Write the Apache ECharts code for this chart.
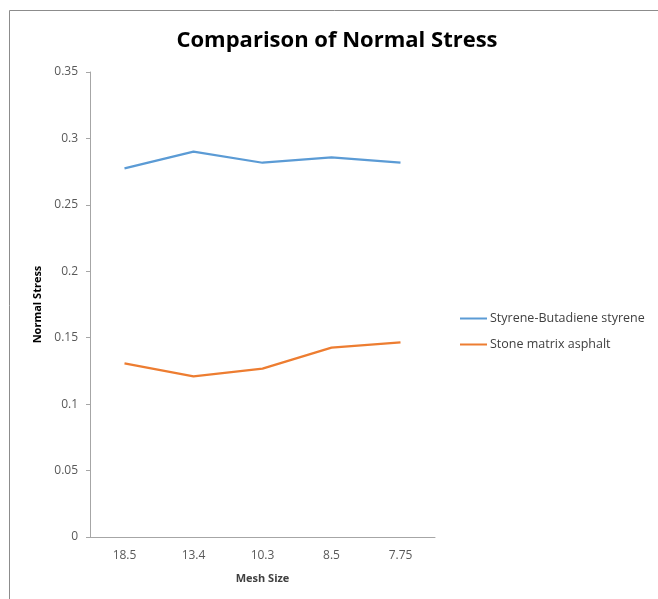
<!DOCTYPE html>
<html>
<head>
<meta charset="utf-8">
<style>
  html, body { margin: 0; padding: 0; background: #fff; }
  #chart { width: 658px; height: 599px; }
</style>
<script src="https://cdn.jsdelivr.net/npm/echarts@6/dist/echarts.min.js"></script>
</head>
<body>
<div id="chart"></div>
<script>
// Mesh sizes along the horizontal axis
const meshSizes = ['18.5', '13.4', '10.3', '8.5', '7.75'];
// Normal stress for each binder
const sbsStress = [0.2775, 0.290, 0.2817, 0.2858, 0.2817];
const smaStress = [0.1307, 0.1209, 0.1267, 0.1425, 0.1465];
const seriesNames = ['Styrene-Butadiene styrene', 'Stone matrix asphalt'];

const FONT = '"Open Sans", "Noto Sans", sans-serif';
const chart = echarts.init(document.getElementById('chart'), null, { renderer: 'canvas' });

chart.setOption({
  animation: false,
  backgroundColor: '#fff',
  title: {
    text: 'Comparison of Normal Stress',
    left: 332,
    textAlign: 'center',
    top: 25,
    textStyle: { fontFamily: FONT, fontSize: 22, fontWeight: 'bold', color: '#000' }
  },
  graphic: [{
    type: 'rect',
    shape: { x: 9.5, y: 10.5, width: 700, height: 640 },
    style: { fill: 'none', stroke: '#8c8c8c', lineWidth: 1 },
    silent: true
  }],
  legend: {
    orient: 'vertical',
    left: 455,
    top: 307,
    itemWidth: 27,
    itemHeight: 2,
    itemGap: 13,
    icon: 'rect',
    textStyle: { fontFamily: FONT, fontSize: 12.5, color: '#404040', padding: [0, 0, 0, -2] },
    data: seriesNames
  },
  grid: { left: 90, right: 223, top: 72, bottom: 62 },
  xAxis: {
    type: 'category',
    data: meshSizes,
    boundaryGap: true,
    name: 'Mesh Size',
    nameLocation: 'middle',
    nameGap: 36,
    nameTextStyle: { fontFamily: FONT, fontSize: 11, fontWeight: 'bold', color: '#404040' },
    axisLine: { lineStyle: { color: '#a6a6a6', width: 1 } },
    axisTick: { show: false },
    axisLabel: { fontFamily: FONT, fontSize: 12, color: '#595959', margin: 13 },
    splitLine: { show: false }
  },
  yAxis: {
    type: 'value',
    min: 0,
    max: 0.35,
    interval: 0.05,
    name: 'Normal Stress',
    nameLocation: 'middle',
    nameGap: 45,
    nameTextStyle: { fontFamily: FONT, fontSize: 11, fontWeight: 'bold', color: '#000' },
    axisLine: { show: true, lineStyle: { color: '#a6a6a6', width: 1 } },
    axisTick: { show: true, length: 4, lineStyle: { color: '#a6a6a6' } },
    axisLabel: {
      fontFamily: FONT, fontSize: 12, color: '#595959', margin: 12,
      formatter: v => String(Math.round(v * 100) / 100)
    },
    splitLine: { show: false }
  },
  series: [
    {
      name: seriesNames[0],
      type: 'line',
      data: sbsStress,
      showSymbol: false,
      symbol: 'none',
      itemStyle: { color: '#5B9BD5' },
      lineStyle: { color: '#5B9BD5', width: 2.25 }
    },
    {
      name: seriesNames[1],
      type: 'line',
      data: smaStress,
      showSymbol: false,
      symbol: 'none',
      itemStyle: { color: '#ED7D31' },
      lineStyle: { color: '#ED7D31', width: 2.25 }
    }
  ]
});
</script>
</body>
</html>
